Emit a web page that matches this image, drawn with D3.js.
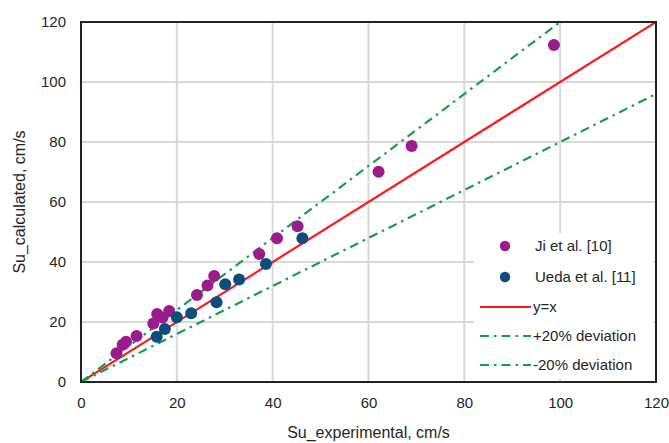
<!DOCTYPE html>
<html>
<head>
<meta charset="utf-8">
<script src="https://cdn.jsdelivr.net/npm/d3@7"></script>
<style>
  html, body { margin: 0; padding: 0; background: #fff; }
  svg { display: block; font-family: "Liberation Sans", Arial, sans-serif; }
</style>
</head>
<body>
<svg id="chart" width="669" height="443"></svg>
<script>
// Laminar burning velocity: calculated vs experimental (cm/s)
const jiData = [
  [7.4, 9.6], [8.7, 12.4], [9.4, 13.4], [11.6, 15.3], [15.1, 19.5],
  [15.9, 22.7], [17.0, 21.5], [18.4, 23.7], [24.2, 29.0], [26.4, 32.2],
  [27.8, 35.3], [37.2, 42.7], [40.9, 47.9], [45.2, 51.9], [62.1, 70.1],
  [69.0, 78.7], [98.7, 112.3]
];
const uedaData = [
  [15.8, 15.1], [17.5, 17.7], [20.0, 21.6], [23.0, 22.9], [28.3, 26.6],
  [30.1, 32.6], [33.0, 34.2], [38.6, 39.3], [46.2, 47.9]
];
const xTicks = [0, 20, 40, 60, 80, 100, 120];
const yTicks = [0, 20, 40, 60, 80, 100, 120];
const refLines = [
  { name: "y=x", factor: 1.0 },
  { name: "+20% deviation", factor: 1.2 },
  { name: "-20% deviation", factor: 0.8 }
];
const seriesNames = ["Ji et al. [10]", "Ueda et al. [11]"];

const colors = { ji: "#9b1a8c", ueda: "#0b4d7c", red: "#ff1a1a", green: "#11a04c" };
const dashDot = "9,5,2.5,5";

const svg = d3.select("#chart");
const margin = { left: 81, right: 13, top: 22, bottom: 61 };
const W = 669, H = 443;
const x = d3.scaleLinear().domain([0, 120]).range([margin.left, W - margin.right]);
const y = d3.scaleLinear().domain([0, 120]).range([H - margin.bottom, margin.top]);

// grid
const grid = svg.append("g");
grid.selectAll(".gx").data(xTicks.slice(1, -1)).join("line")
  .attr("x1", d => x(d)).attr("x2", d => x(d))
  .attr("y1", y(0)).attr("y2", y(120))
  .attr("stroke", "#d9d9d9").attr("stroke-width", 2);
grid.selectAll(".gy").data(yTicks.slice(1, -1)).join("line")
  .attr("x1", x(0)).attr("x2", x(120))
  .attr("y1", d => y(d)).attr("y2", d => y(d))
  .attr("stroke", "#d9d9d9").attr("stroke-width", 2);

// clip region for reference lines
svg.append("clipPath").attr("id", "plotClip").append("rect")
  .attr("x", x(0)).attr("y", y(120)).attr("width", x(120) - x(0)).attr("height", y(0) - y(120));

const lineG = svg.append("g").attr("clip-path", "url(#plotClip)");
refLines.forEach((r, i) => {
  const xEnd = Math.min(120, 120 / r.factor);
  lineG.append("line")
    .attr("x1", x(0)).attr("y1", y(0))
    .attr("x2", x(xEnd)).attr("y2", y(xEnd * r.factor))
    .attr("stroke", i === 0 ? colors.red : colors.green)
    .attr("stroke-width", 2.2)
    .attr("stroke-dasharray", i === 0 ? null : dashDot);
});

// data points
svg.append("g").selectAll("circle").data(jiData).join("circle")
  .attr("cx", d => x(d[0])).attr("cy", d => y(d[1])).attr("r", 6)
  .attr("fill", colors.ji);
svg.append("g").selectAll("circle").data(uedaData).join("circle")
  .attr("cx", d => x(d[0])).attr("cy", d => y(d[1])).attr("r", 6)
  .attr("fill", colors.ueda);

// legend
const lg = svg.append("g");
lg.append("rect").attr("x", 474).attr("y", 233).attr("width", 180).attr("height", 146).attr("fill", "#fff");
const rowsY = [246, 277, 307, 336, 365];
lg.append("circle").attr("cx", 505).attr("cy", rowsY[0]).attr("r", 5.2).attr("fill", colors.ji);
lg.append("circle").attr("cx", 505).attr("cy", rowsY[1]).attr("r", 5.2).attr("fill", colors.ueda);
refLines.forEach((r, i) => {
  lg.append("line").attr("x1", 480).attr("x2", 531)
    .attr("y1", rowsY[i + 2]).attr("y2", rowsY[i + 2])
    .attr("stroke", i === 0 ? colors.red : colors.green).attr("stroke-width", 2)
    .attr("stroke-dasharray", i === 0 ? null : dashDot);
});
const legendLabels = [...seriesNames, ...refLines.map(r => r.name)];
lg.selectAll("text").data(legendLabels).join("text")
  .attr("x", (d, i) => i < 2 ? 535 : 533).attr("y", (d, i) => rowsY[i])
  .attr("dy", "0.35em").attr("font-size", 15).attr("fill", "#262626")
  .text(d => d);

// frame
svg.append("rect").attr("x", x(0)).attr("y", y(120))
  .attr("width", x(120) - x(0)).attr("height", y(0) - y(120))
  .attr("fill", "none").attr("stroke", "#222").attr("stroke-width", 2);

// axes
const xAxis = svg.append("g").attr("transform", `translate(0,${y(0)})`)
  .call(d3.axisBottom(x).tickValues(xTicks).tickSize(0).tickPadding(15));
const yAxis = svg.append("g").attr("transform", `translate(${x(0)},0)`)
  .call(d3.axisLeft(y).tickValues(yTicks).tickSize(0).tickPadding(15));
[xAxis, yAxis].forEach(a => {
  a.select(".domain").remove();
  a.selectAll("text").attr("font-size", 15).attr("fill", "#262626")
    .attr("font-family", "'Liberation Sans', Arial, sans-serif");
});

svg.append("text").attr("x", (x(0) + x(120)) / 2).attr("y", 438)
  .attr("text-anchor", "middle").attr("font-size", 16).attr("fill", "#262626")
  .text("Su_experimental, cm/s");
svg.append("text").attr("transform", `translate(25,${(y(0) + y(120)) / 2}) rotate(-90)`)
  .attr("text-anchor", "middle").attr("font-size", 16).attr("fill", "#262626")
  .text("Su_calculated, cm/s");
</script>
</body>
</html>
